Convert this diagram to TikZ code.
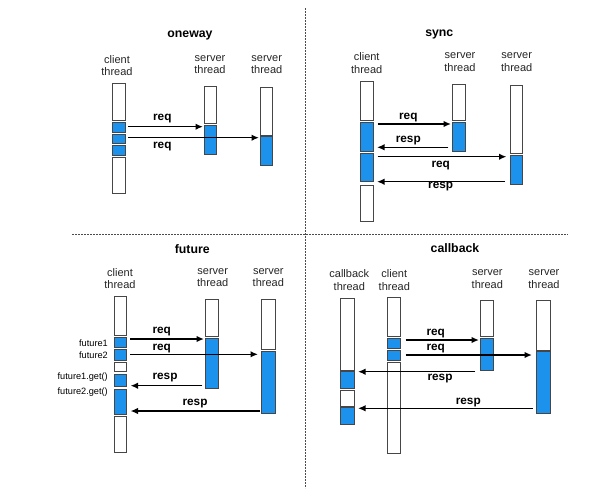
\documentclass[tikz,border=0pt]{standalone}
\usepackage{fontspec}
\setmainfont{Liberation Sans}
\usetikzlibrary{arrows.meta}
\definecolor{segblue}{RGB}{28,146,236}
\definecolor{edge}{RGB}{70,70,70}
\newcommand\blk[6]{\node[#1, minimum width={(#5-#3)*1pt}, minimum height={(#6-#4)*1pt}, anchor=north west] (#2) at (#3,#4) {};}
\tikzset{
  wseg/.style={draw=edge, fill=white, line width=0.9pt, inner sep=0pt, outer sep=0pt},
  bseg/.style={draw=edge, fill=segblue, line width=0.9pt, inner sep=0pt, outer sep=0pt},
  arr/.style={line width=1.5pt, -{Latex[length=7.5pt,width=6.5pt]}},
  ttl/.style={font=\fontsize{12.3}{14}\selectfont\bfseries},
  thr/.style={font=\fontsize{11}{12.8}\selectfont, align=center, text=black!85},
  lbl/.style={font=\fontsize{11.8}{13}\selectfont\bfseries, inner sep=0pt},
  flbl/.style={font=\fontsize{9.2}{11}\selectfont, anchor=east, inner sep=0pt},
  sep/.style={line width=1.4pt, dash pattern=on 1.6pt off 1.4pt, draw=black!70}
}
\begin{document}
\begin{tikzpicture}[x=1pt,y=-1pt]
\useasboundingbox[fill=white] (0,0) rectangle (599,496);
% separators
\coordinate (vt) at (305.5,8);
\coordinate (vb) at (305.5,488);
\coordinate (hl) at (72,234.3);
\coordinate (hr) at (568,234.3);
\draw[sep] (vt) -- (vb);
\draw[sep] (hl) -- (hr);

% ================= oneway =================
\node[ttl] (t1) at (190,35) {oneway};
\node[thr] (o_cl) at (117,65.5) {client\\thread};
\node[thr] (o_s1l) at (210,64.5) {server\\thread};
\node[thr] (o_s2l) at (266.7,64.5) {server\\thread};
\blk{wseg}{o_cw1}{112}{83.3}{125}{120}
\blk{bseg}{o_cb1}{112}{122}{125}{132}
\blk{bseg}{o_cb2}{112}{134.3}{125}{143.3}
\blk{bseg}{o_cb3}{112}{145.7}{125}{155.7}
\blk{wseg}{o_cw2}{112}{157.3}{125}{193.3}
\blk{wseg}{o_s1w}{204}{86.7}{216.7}{123.3}
\blk{bseg}{o_s1b}{204}{125}{216.7}{154}
\blk{wseg}{o_s2w}{260}{87.3}{272.7}{135}
\blk{bseg}{o_s2b}{260}{136}{272.7}{165.7}
\coordinate (o_a1s) at (128.3,126.7);
\coordinate (o_a1e) at (203,126.7);
\coordinate (o_a2s) at (128.3,137.7);
\coordinate (o_a2e) at (259,137.7);
\draw[arr] (o_a1s) -- (o_a1e);
\draw[arr] (o_a2s) -- (o_a2e);
\node[lbl] (o_l1) at (162.3,119) {req};
\node[lbl] (o_l2) at (162.3,146.5) {req};

% ================= sync =================
\node[ttl] (t2) at (439.3,34) {sync};
\node[thr] (s_cl) at (366.7,63) {client\\thread};
\node[thr] (s_s1l) at (460,62) {server\\thread};
\node[thr] (s_s2l) at (516.7,62) {server\\thread};
\blk{wseg}{s_cw1}{360.7}{81.7}{373.3}{120}
\blk{bseg}{s_cb1}{360.7}{122.7}{373.3}{151}
\blk{bseg}{s_cb2}{360.7}{153.3}{373.3}{181.7}
\blk{wseg}{s_cw2}{360.7}{185}{373.3}{221.7}
\blk{wseg}{s_s1w}{452.7}{84.3}{465.3}{120.7}
\blk{bseg}{s_s1b}{452.7}{122.7}{465.3}{151}
\blk{wseg}{s_s2w}{510}{85}{522.7}{153.3}
\blk{bseg}{s_s2b}{510}{155}{522.7}{184}
\coordinate (s_a1s) at (377.7,124);
\coordinate (s_a1e) at (451,124);
\coordinate (s_a2s) at (448.3,147.3);
\coordinate (s_a2e) at (377,147.3);
\coordinate (s_a3s) at (377.7,156.7);
\coordinate (s_a3e) at (506.5,156.7);
\coordinate (s_a4s) at (505,181.7);
\coordinate (s_a4e) at (377,181.7);
\draw[arr] (s_a1s) -- (s_a1e);
\draw[arr] (s_a2s) -- (s_a2e);
\draw[arr] (s_a3s) -- (s_a3e);
\draw[arr] (s_a4s) -- (s_a4e);
\node[lbl] (s_l1) at (408.3,117.3) {req};
\node[lbl] (s_l2) at (408.3,140.7) {resp};
\node[lbl] (s_l3) at (440.7,165.3) {req};
\node[lbl] (s_l4) at (440.7,187) {resp};

% ================= future =================
\node[ttl] (t3) at (192.3,249) {future};
\node[thr] (f_cl) at (120,278.5) {client\\thread};
\node[thr] (f_s1l) at (212.7,277.5) {server\\thread};
\node[thr] (f_s2l) at (268.3,277.5) {server\\thread};
\blk{wseg}{f_cw1}{114}{296}{126.7}{335}
\blk{bseg}{f_cb1}{114}{337.7}{126.7}{347.3}
\blk{bseg}{f_cb2}{114}{349.3}{126.7}{360}
\blk{wseg}{f_cw2}{114}{362.3}{126.7}{371.7}
\blk{bseg}{f_cb3}{114}{374.3}{126.7}{386.7}
\blk{bseg}{f_cb4}{114}{389}{126.7}{414.3}
\blk{wseg}{f_cw3}{114}{416.7}{126.7}{452.7}
\blk{wseg}{f_s1w}{205}{299.3}{218.3}{336.7}
\blk{bseg}{f_s1b}{205}{338.3}{218.3}{388.3}
\blk{wseg}{f_s2w}{261.7}{299.3}{275}{349}
\blk{bseg}{f_s2b}{261.7}{351}{275}{413.3}
\node[flbl] (f_t1) at (108,343) {future1};
\node[flbl] (f_t2) at (108,355) {future2};
\node[flbl] (f_t3) at (108,377.3) {future1.get()};
\node[flbl] (f_t4) at (108,392.3) {future2.get()};
\coordinate (f_a1s) at (130,339);
\coordinate (f_a1e) at (204,339);
\coordinate (f_a2s) at (130,354.3);
\coordinate (f_a2e) at (258,354.3);
\coordinate (f_a3s) at (202.3,385.7);
\coordinate (f_a3e) at (130.5,385.7);
\coordinate (f_a4s) at (260,411);
\coordinate (f_a4e) at (130.5,411);
\draw[arr] (f_a1s) -- (f_a1e);
\draw[arr] (f_a2s) -- (f_a2e);
\draw[arr] (f_a3s) -- (f_a3e);
\draw[arr] (f_a4s) -- (f_a4e);
\node[lbl] (f_l1) at (161.7,331.7) {req};
\node[lbl] (f_l2) at (161.7,348.3) {req};
\node[lbl] (f_l3) at (165,377.3) {resp};
\node[lbl] (f_l4) at (195,404) {resp};

% ================= callback =================
\node[ttl] (t4) at (455,248.3) {callback};
\node[thr] (c_kl) at (349.3,280.3) {callback\\thread};
\node[thr] (c_cl) at (394.3,280) {client\\thread};
\node[thr] (c_s1l) at (487.3,279) {server\\thread};
\node[thr] (c_s2l) at (544,279) {server\\thread};
\blk{wseg}{c_kw1}{340.7}{298.3}{354}{370}
\blk{bseg}{c_kb1}{340.7}{371.7}{354}{388.3}
\blk{wseg}{c_kw2}{340.7}{390}{354}{406}
\blk{bseg}{c_kb2}{340.7}{407.7}{354}{424.3}
\blk{wseg}{c_cw1}{387.3}{297.7}{400.7}{336}
\blk{bseg}{c_cb1}{387.3}{338.7}{400.7}{348.7}
\blk{bseg}{c_cb2}{387.3}{350.7}{400.7}{360.7}
\blk{wseg}{c_cw2}{387.3}{362.7}{400.7}{453.3}
\blk{wseg}{c_s1w}{480}{300}{493.3}{336.7}
\blk{bseg}{c_s1b}{480}{338.3}{493.3}{370.7}
\blk{wseg}{c_s2w}{536.7}{300}{550}{350}
\blk{bseg}{c_s2b}{536.7}{351.7}{550}{413.3}
\coordinate (c_a1s) at (405.7,340);
\coordinate (c_a1e) at (479,340);
\coordinate (c_a2s) at (405.7,355);
\coordinate (c_a2e) at (532,355);
\coordinate (c_a3s) at (475,371.7);
\coordinate (c_a3e) at (358,371.7);
\coordinate (c_a4s) at (532.7,408.3);
\coordinate (c_a4e) at (358,408.3);
\draw[arr] (c_a1s) -- (c_a1e);
\draw[arr] (c_a2s) -- (c_a2e);
\draw[arr] (c_a3s) -- (c_a3e);
\draw[arr] (c_a4s) -- (c_a4e);
\node[lbl] (c_l1) at (435.7,334) {req};
\node[lbl] (c_l2) at (435.7,349) {req};
\node[lbl] (c_l3) at (440,379) {resp};
\node[lbl] (c_l4) at (468.3,402.7) {resp};
\end{tikzpicture}
\end{document}
